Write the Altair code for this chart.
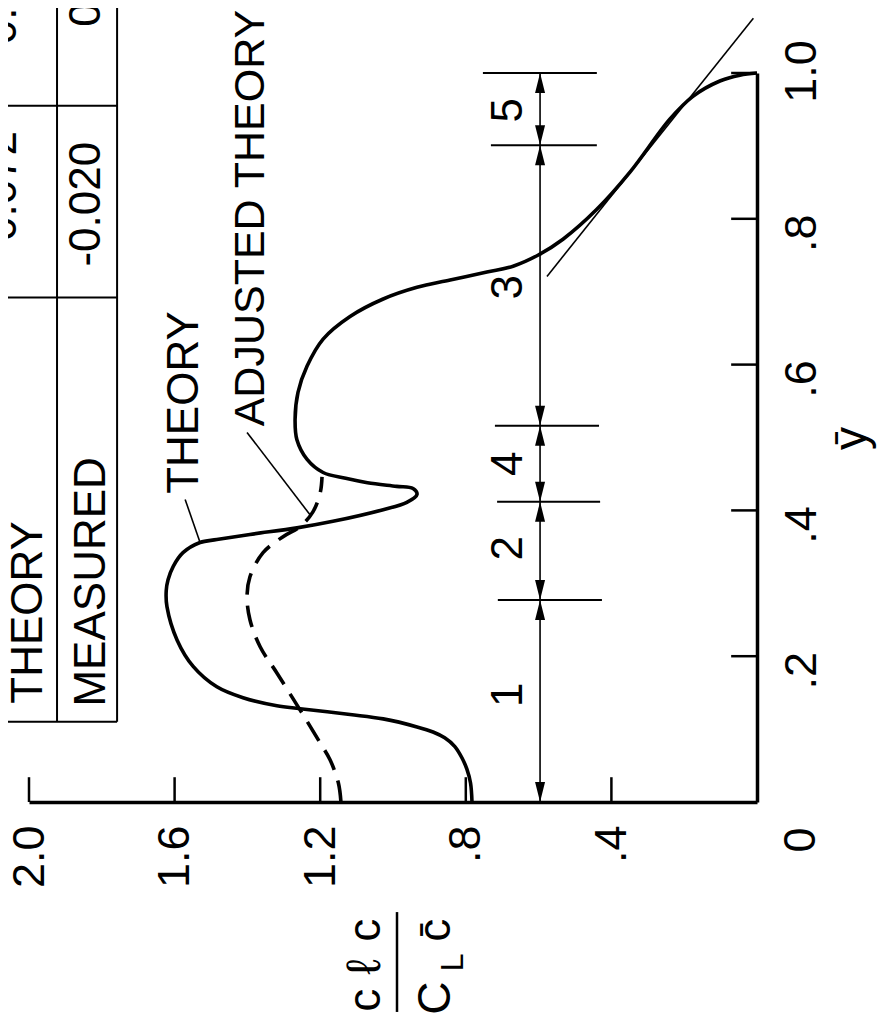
import altair as alt
import pandas as pd

FONT = "Liberation Sans"

# ---------------- data ----------------
# Theory curve: ybar (spanwise station) and c_l c / C_L cbar
theory_ybar = [0.000, 0.026, 0.045, 0.060, 0.076, 0.088, 0.096, 0.103, 0.114, 0.120, 0.128,
               0.132, 0.143, 0.158, 0.186, 0.222, 0.268, 0.290, 0.305, 0.323, 0.342, 0.356,
               0.360, 0.367, 0.376, 0.385, 0.401, 0.411, 0.422, 0.430, 0.433, 0.438, 0.444,
               0.452, 0.470, 0.497, 0.525, 0.562, 0.598, 0.635, 0.666, 0.690, 0.706, 0.716,
               0.727, 0.735, 0.750, 0.772, 0.813, 0.864, 0.937, 0.968, 0.989, 0.997, 1.000]
theory_c = [0.783, 0.787, 0.797, 0.810, 0.830, 0.858, 0.890, 0.934, 1.027, 1.118, 1.255,
            1.319, 1.412, 1.484, 1.549, 1.593, 1.621, 1.623, 1.618, 1.604, 1.577, 1.530,
            1.484, 1.393, 1.264, 1.165, 1.027, 0.962, 0.934, 0.945, 0.990, 1.070, 1.130,
            1.192, 1.236, 1.264, 1.269, 1.261, 1.236, 1.192, 1.118, 1.027, 0.934, 0.843,
            0.742, 0.670, 0.602, 0.533, 0.440, 0.349, 0.239, 0.176, 0.102, 0.047, 0.000]

# Adjusted theory (dashed)
adj_ybar = [0.000, 0.026, 0.058, 0.081, 0.126, 0.177, 0.213, 0.250, 0.282, 0.309, 0.342,
            0.364, 0.378, 0.398, 0.424, 0.446]
adj_c = [1.143, 1.150, 1.173, 1.200, 1.255, 1.319, 1.365, 1.393, 1.401, 1.393, 1.357,
         1.302, 1.255, 1.220, 1.200, 1.195]

# Tangent line near the tip
tangent_ybar = [0.721, 1.075]
tangent_c = [0.577, 0.010]

# Axis ticks and labels
c_tick_values = [0.4, 0.8, 1.2, 1.6, 2.0]
c_tick_labels = [".4", ".8", "1.2", "1.6", "2.0"]
y_tick_values = [0.2, 0.4, 0.6, 0.8, 1.0]
y_tick_labels = [".2", ".4", ".6", ".8", "1.0"]

# Spanwise segment dimension marks
station_ybar = [0.277, 0.412, 0.516, 0.901, 1.000]
station_c_left = [0.712, 0.714, 0.720, 0.731, 0.753]
station_c_right = [0.426, 0.431, 0.434, 0.440, 0.440]
arrow_up_ybar = [0.277, 0.412, 0.516, 0.901, 1.000]
arrow_down_ybar = [0.000, 0.277, 0.412, 0.516, 0.901]
segment_labels = ["1", "2", "4", "3", "5"]
segment_label_ybar = [0.147, 0.348, 0.464, 0.706, 0.949]

# Table (partly cut off at the top-left)
table_texts = ["THEORY", "MEASURED", "-0.020", "0.015", "0.072", "0.050"]
table_text_c = [2.000, 1.827, 1.841, 1.841, 2.071, 2.071]
table_text_ybar = [0.260, 0.302, 0.820, 1.139, 0.845, 1.115]
table_vline_c = [1.923, 1.758]
table_hline_ybar = [0.110, 0.692, 0.955]

# ---------------- scales / axes ----------------
def label_expr(values, labels):
    expr = "''"
    for v, l in reversed(list(zip(values, labels))):
        expr = f"abs(datum.value - {v}) < 1e-6 ? '{l}' : ({expr})"
    return expr

xscale = alt.Scale(domain=[0, 2], reverse=True, nice=False, zero=False)
yscale = alt.Scale(domain=[0, 1], nice=False, zero=False)

xaxis = alt.Axis(orient="bottom", values=c_tick_values, labelExpr=label_expr(c_tick_values, c_tick_labels),
                 ticks=False, tickSize=0, grid=False, domainColor="black", domainWidth=3.5,
                 labelAngle=270, labelAlign="right", labelBaseline="middle", labelPadding=23,
                 labelFont=FONT, labelFontSize=45, labelColor="black", labelOverlap=False,
                 labelFlush=False, title=None)
yaxis = alt.Axis(orient="right", values=y_tick_values, labelExpr=label_expr(y_tick_values, y_tick_labels),
                 ticks=False, tickSize=0, grid=False, domainColor="black", domainWidth=3.5,
                 labelAngle=270, labelAlign="center", labelBaseline="top", labelPadding=22,
                 labelOffset=alt.condition("datum.value < 0.99", alt.value(14), alt.value(-2)),
                 labelFont=FONT, labelFontSize=45, labelColor="black", labelOverlap=False,
                 labelFlush=False, title="ȳ", titleAngle=270, titleFont=FONT, titleFontSize=46,
                 titleFontWeight="normal", titleColor="black", titleX=94, titleY=365,
                 titleAlign="center", titleBaseline="middle")

X = alt.X("c:Q", scale=xscale, axis=xaxis)
Y = alt.Y("ybar:Q", scale=yscale, axis=yaxis)
X2 = alt.X2("c2:Q")
Y2 = alt.Y2("ybar2:Q")

# ---------------- tables ----------------
theory_df = pd.DataFrame({"c": theory_c, "ybar": theory_ybar})
adj_df = pd.DataFrame({"c": adj_c, "ybar": adj_ybar})
tangent_df = pd.DataFrame({"c": tangent_c, "ybar": tangent_ybar})

c_ticks_df = pd.DataFrame({"c": c_tick_values, "c2": c_tick_values,
                           "ybar": [0.0] * len(c_tick_values), "ybar2": [0.034] * len(c_tick_values)})
y_ticks_df = pd.DataFrame({"c": [0.0] * len(y_tick_values), "c2": [0.071] * len(y_tick_values),
                           "ybar": y_tick_values, "ybar2": y_tick_values})

ext_df = pd.DataFrame({"c": station_c_left, "c2": station_c_right,
                       "ybar": station_ybar, "ybar2": station_ybar})
dim_df = pd.DataFrame({"c": [0.596], "c2": [0.596], "ybar": [0.0], "ybar2": [1.0]})
up_df = pd.DataFrame({"c": [0.596] * len(arrow_up_ybar), "ybar": arrow_up_ybar})
down_df = pd.DataFrame({"c": [0.596] * len(arrow_down_ybar), "ybar": arrow_down_ybar})

leader_df = pd.DataFrame({"c": [1.571, 1.401], "ybar": [0.415, 0.507],
                          "c2": [1.530, 1.228], "ybar2": [0.356, 0.394]})

table_lines_df = pd.DataFrame({
    "c": table_vline_c + [2.12] * len(table_hline_ybar),
    "c2": table_vline_c + [table_vline_c[1]] * len(table_hline_ybar),
    "ybar": [table_hline_ybar[0]] * 2 + table_hline_ybar,
    "ybar2": [1.16] * 2 + table_hline_ybar,
})

frac_df = pd.DataFrame({"c": [0.989], "c2": [0.989], "ybar": [-0.151], "ybar2": [-0.288]})

mid_text_df = pd.DataFrame({
    "text": ["THEORY", "ADJUSTED THEORY"] + segment_labels + table_texts + ["0"],
    "c": [1.571, 1.390] + [0.68] * len(segment_labels) + table_text_c + [-0.121],
    "ybar": [0.548, 0.801] + segment_label_ybar + table_text_ybar + [-0.052],
    "size": [44, 43] + [44] * len(segment_labels) + [44] * len(table_texts) + [45],
})

base_text_df = pd.DataFrame({
    "text": ["c", "ℓ", "c", "C", "L", "c\u0304"],
    "c": [1.036, 1.036, 1.036, 0.843, 0.808, 0.843],
    "ybar": [-0.272, -0.226, -0.176, -0.269, -0.220, -0.176],
    "size": [46, 48, 46, 46, 32, 46],
})

# ---------------- layers ----------------
ticks_c = alt.Chart(c_ticks_df).mark_rule(color="black", strokeWidth=2.5).encode(x=X, x2=X2, y=Y, y2=Y2)
ticks_y = alt.Chart(y_ticks_df).mark_rule(color="black", strokeWidth=2.5).encode(x=X, x2=X2, y=Y, y2=Y2)

theory = alt.Chart(theory_df).mark_line(color="black", strokeWidth=3.6, interpolate="catmull-rom").encode(
    x=X, y=Y, order=alt.Order("ybar:Q"))
adjusted = alt.Chart(adj_df).mark_line(color="black", strokeWidth=3.6, strokeDash=[22, 11],
                                       interpolate="catmull-rom").encode(x=X, y=Y, order=alt.Order("ybar:Q"))
tangent = alt.Chart(tangent_df).mark_line(color="black", strokeWidth=1.6).encode(
    x=X, y=Y, order=alt.Order("ybar:Q"))

leaders = alt.Chart(leader_df).mark_rule(color="black", strokeWidth=1.6).encode(x=X, x2=X2, y=Y, y2=Y2)
ext_lines = alt.Chart(ext_df).mark_rule(color="black", strokeWidth=2).encode(x=X, x2=X2, y=Y, y2=Y2)
dim_line = alt.Chart(dim_df).mark_rule(color="black", strokeWidth=1.6).encode(x=X, x2=X2, y=Y, y2=Y2)
arrows_up = alt.Chart(up_df).mark_point(shape="M0,0L-0.25,1L0.25,1Z", size=1600, filled=True,
                                        color="black", opacity=1, strokeWidth=0).encode(x=X, y=Y)
arrows_down = alt.Chart(down_df).mark_point(shape="M0,0L-0.25,-1L0.25,-1Z", size=1600, filled=True,
                                            color="black", opacity=1, strokeWidth=0).encode(x=X, y=Y)

table_lines = alt.Chart(table_lines_df).mark_rule(color="black", strokeWidth=2).encode(x=X, x2=X2, y=Y, y2=Y2)
frac_bar = alt.Chart(frac_df).mark_rule(color="black", strokeWidth=2.5).encode(x=X, x2=X2, y=Y, y2=Y2)

mid_texts = alt.Chart(mid_text_df).mark_text(angle=270, align="center", baseline="middle", font=FONT,
                                             color="black").encode(
    x=X, y=Y, text="text:N", size=alt.Size("size:Q", scale=None, legend=None))
base_texts = alt.Chart(base_text_df).mark_text(angle=270, align="center", baseline="alphabetic", font=FONT,
                                               color="black").encode(
    x=X, y=Y, text="text:N", size=alt.Size("size:Q", scale=None, legend=None))

chart = alt.layer(
    table_lines, ticks_c, ticks_y, theory, adjusted, tangent, leaders, ext_lines, dim_line,
    arrows_up, arrows_down, frac_bar, mid_texts, base_texts
).properties(
    width=728, height=729,
    autosize=alt.AutoSizeParams(type="none"),
    padding={"left": 21, "top": 65, "right": 126, "bottom": 214},
    background="white",
).configure_view(stroke=None)

chart.save("out.html", embed_options={"renderer": "svg", "actions": False})
